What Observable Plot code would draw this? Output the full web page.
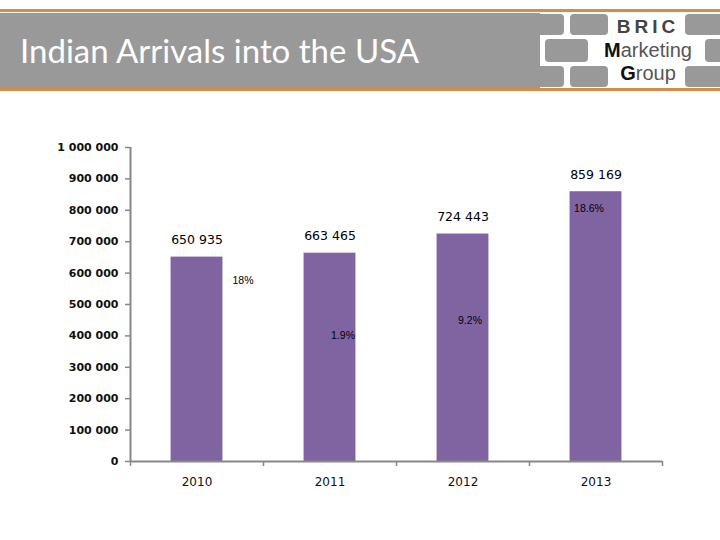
<!DOCTYPE html>
<html><head><meta charset="utf-8">
<script src="https://cdn.jsdelivr.net/npm/d3@7"></script>
<script src="https://cdn.jsdelivr.net/npm/@observablehq/plot@0.6"></script>
<style>
html,body{margin:0;padding:0;background:#fff;width:720px;height:540px;overflow:hidden;}
#hdr{position:relative;width:720px;height:100px;}
.orange{position:absolute;left:0;width:720px;height:3px;background:#d68b47;}
#band{position:absolute;left:0;top:13px;width:540px;height:75px;background:#999999;}
#title{position:absolute;left:20px;top:30px;font-family:Lato,"Open Sans",sans-serif;font-size:33px;color:#fff;white-space:nowrap;}
#logo{position:absolute;left:540px;top:13px;width:180px;height:75px;background:#fff;}
.brick{position:absolute;background:#999;border-radius:4px;}
.lt{position:absolute;left:0;width:216px;text-align:center;font-family:"Liberation Sans",Arial,sans-serif;color:#555;}
#chart{position:absolute;left:0;top:100px;}
</style></head>
<body>
<div id="hdr">
  <div class="orange" style="top:9px"></div>
  <div id="band"></div>
  <div id="title">Indian Arrivals into the USA</div>
  <div id="logo">
    <div class="brick" style="left:-8px;top:1px;width:32px;height:21px"></div>
    <div class="brick" style="left:30px;top:1px;width:38px;height:21px"></div>
    <div class="brick" style="left:145px;top:1px;width:40px;height:21px"></div>
    <div class="brick" style="left:5px;top:26px;width:43px;height:23px"></div>
    <div class="brick" style="left:165px;top:26px;width:20px;height:23px"></div>
    <div class="brick" style="left:-8px;top:53px;width:32px;height:21px"></div>
    <div class="brick" style="left:30px;top:53px;width:38px;height:21px"></div>
    <div class="brick" style="left:145px;top:53px;width:40px;height:21px"></div>
    <div class="lt" style="left:0;top:3px;width:216px;font-weight:bold;font-size:19px;letter-spacing:4px;color:#444">BRIC</div>
    <div class="lt" style="top:26px;width:216px;font-size:20px"><span style="color:#111;font-weight:bold">M</span>arketing</div>
    <div class="lt" style="top:49px;width:216px;font-size:20px"><span style="color:#111;font-weight:bold">G</span>roup</div>
  </div>
  <div class="orange" style="top:88px"></div>
</div>
<div id="chart"></div>
<script>
const years = [2010, 2011, 2012, 2013];
const arrivals = [650935, 663465, 724443, 859169];
const growthLabels = ["18%", "1.9%", "9.2%", "18.6%"];
const yTicks = [0, 100000, 200000, 300000, 400000, 500000, 600000, 700000, 800000, 900000, 1000000];

const data = years.map((y, i) => ({year: y, value: arrivals[i], growth: growthLabels[i]}));
const fmt = v => d3.format(",")(v).replace(/,/g, " ");
const half = 0.195;
// label placement offsets (px) relative to each bar top
const gOff = [[46, 24], [13, 82], [7, 87], [-7, 17]];

const plot = Plot.plot({
  width: 720,
  height: 440,
  marginTop: 47,
  marginBottom: 79,
  marginLeft: 130,
  marginRight: 58,
  style: {fontFamily: "DejaVu Sans, Verdana, sans-serif", fontSize: "12px", color: "#000", background: "transparent"},
  x: {type: "linear", domain: [2009.5, 2013.5]},
  y: {domain: [0, 1000000]},
  marks: [
    Plot.rectY(data, {x1: d => d.year - half, x2: d => d.year + half, y1: 0, y2: "value", fill: "#8064a2"}),
    Plot.ruleX([2009.5], {y1: 0, y2: 1000000, stroke: "#888", strokeWidth: 2}),
    Plot.ruleY([0], {stroke: "#888", strokeWidth: 2}),
    Plot.axisY({ticks: yTicks, tickFormat: fmt, tickSize: 5, tickPadding: 7, stroke: "#888", strokeWidth: 1.5, label: null, fill: "#111", fontWeight: "bold", fontSize: 11}),
    Plot.axisX({ticks: [2009.5, 2010.5, 2011.5, 2012.5, 2013.5], tickSize: 5, tickFormat: () => "", stroke: "#888", strokeWidth: 1.5, label: null}),
    Plot.axisX({ticks: years, tickSize: 0, tickPadding: 16, tickFormat: d => String(d), label: null, fill: "#111", fontSize: 12}),
    Plot.text(data, {x: "year", y: "value", text: d => fmt(d.value), dy: -17, fontSize: 12.5, fill: "#000"}),
    ...data.map((d, i) => Plot.text([d], {x: "year", y: "value", text: "growth", dx: gOff[i][0], dy: gOff[i][1], fontSize: 10.5, fontFamily: "Liberation Sans, Arial, sans-serif", fill: "#000"}))
  ]
});
document.getElementById("chart").appendChild(plot);
</script>
</body></html>
